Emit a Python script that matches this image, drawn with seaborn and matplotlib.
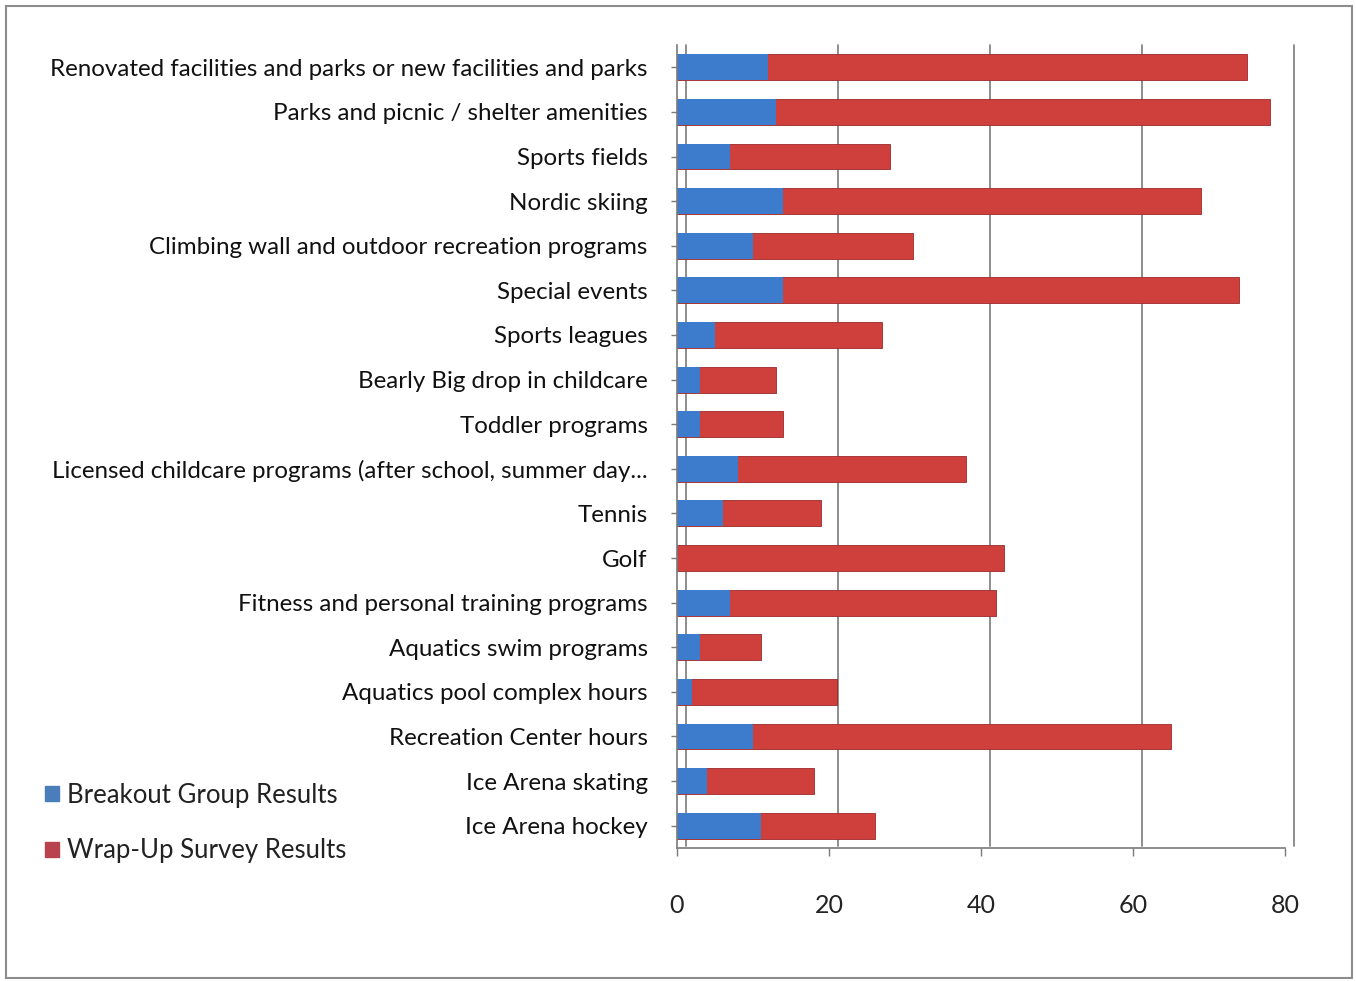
import matplotlib
matplotlib.use("Agg")
import matplotlib.pyplot as plt
import matplotlib.patches as mpatches
import matplotlib.transforms as mtransforms
import numpy as np
import pandas as pd
import seaborn as sns

categories = [
    "Renovated facilities and parks or new facilities and parks",
    "Parks and picnic / shelter amenities",
    "Sports fields",
    "Nordic skiing",
    "Climbing wall and outdoor recreation programs",
    "Special events",
    "Sports leagues",
    "Bearly Big drop in childcare",
    "Toddler programs",
    "Licensed childcare programs (after school, summer day...",
    "Tennis",
    "Golf",
    "Fitness and personal training programs",
    "Aquatics swim programs",
    "Aquatics pool complex hours",
    "Recreation Center hours",
    "Ice Arena skating",
    "Ice Arena hockey",
]
breakout = [12, 13, 7, 14, 10, 14, 5, 3, 3, 8, 6, 0, 7, 3, 2, 10, 4, 11]
wrapup = [63, 65, 21, 55, 21, 60, 22, 10, 11, 30, 13, 43, 35, 8, 19, 55, 14, 15]
series_names = ["Breakout Group Results", "Wrap-Up Survey Results"]
x_ticks = [0, 20, 40, 60, 80]

BLUE = "#3d7ccc"
RED = "#cf3f3c"
LEG_BLUE = "#4a7ebb"
LEG_RED = "#b8434f"
AXIS_GREY = "#7a7a7a"

df = pd.DataFrame({"category": categories, "breakout": breakout, "wrapup": wrapup})
df["total"] = df["breakout"] + df["wrapup"]

sns.set_theme(style="white")
plt.rcParams["font.family"] = ["Lato", "DejaVu Sans"]

fig = plt.figure(figsize=(13.56, 9.81), dpi=100)
ax = fig.add_axes([677 / 1356, 1 - 848 / 981, (1285 - 677) / 1356, (848 - 45) / 981])

# stacked bars: full length in red, breakout part in blue on top
sns.barplot(data=df, x="total", y="category", color=RED, width=0.58,
            orient="h", ax=ax, saturation=1, edgecolor="#9a2a28", linewidth=0.6)
sns.barplot(data=df, x="breakout", y="category", color=BLUE, width=0.58,
            orient="h", ax=ax, saturation=1, linewidth=0)

ax.set_xlim(0, 80)
ax.set_ylim(len(categories) - 0.5, -0.5)
ax.set_xticks(x_ticks)
ax.set_xticklabels([str(t) for t in x_ticks])
ax.set_xlabel("")
ax.set_ylabel("")

# back-wall gridlines, set slightly behind the bars for a depth effect
back = mtransforms.offset_copy(ax.transData, fig=fig, x=9, y=4, units="dots")
back_x = mtransforms.blended_transform_factory(back, ax.transAxes)
for t in x_ticks:
    ax.plot([t, t], [0.003, 1.0], transform=back_x, color=AXIS_GREY,
            linewidth=1.2, zorder=0, clip_on=False)

for side in ["top", "right"]:
    ax.spines[side].set_visible(False)
for side in ["left", "bottom"]:
    ax.spines[side].set_color(AXIS_GREY)
    ax.spines[side].set_linewidth(1.2)

ax.tick_params(axis="y", which="major", left=True, length=4, width=1,
               color=AXIS_GREY, pad=17, labelsize=17.4, labelcolor="#111111")
ax.tick_params(axis="x", which="major", bottom=True, length=6, width=1,
               color=AXIS_GREY, pad=27, labelsize=18, labelcolor="#222222")

# legend on the lower left
handles = [mpatches.Patch(color=LEG_BLUE), mpatches.Patch(color=LEG_RED)]
fig.legend(handles, series_names, loc="center left",
           bbox_to_anchor=(22 / 1356, 1 - 823 / 981), frameon=False,
           fontsize=18.5, handlelength=0.55, handleheight=0.55,
           handletextpad=0.3, labelspacing=1.2, labelcolor="#222222")

# outer chart frame
frame = mpatches.Rectangle((6 / 1356, 3 / 981), 1346 / 1356, 972 / 981,
                           transform=fig.transFigure, fill=False,
                           edgecolor="#8c8c8c", linewidth=1.5)
fig.patches.append(frame)

fig.savefig("out.png", dpi=100, facecolor="white")
